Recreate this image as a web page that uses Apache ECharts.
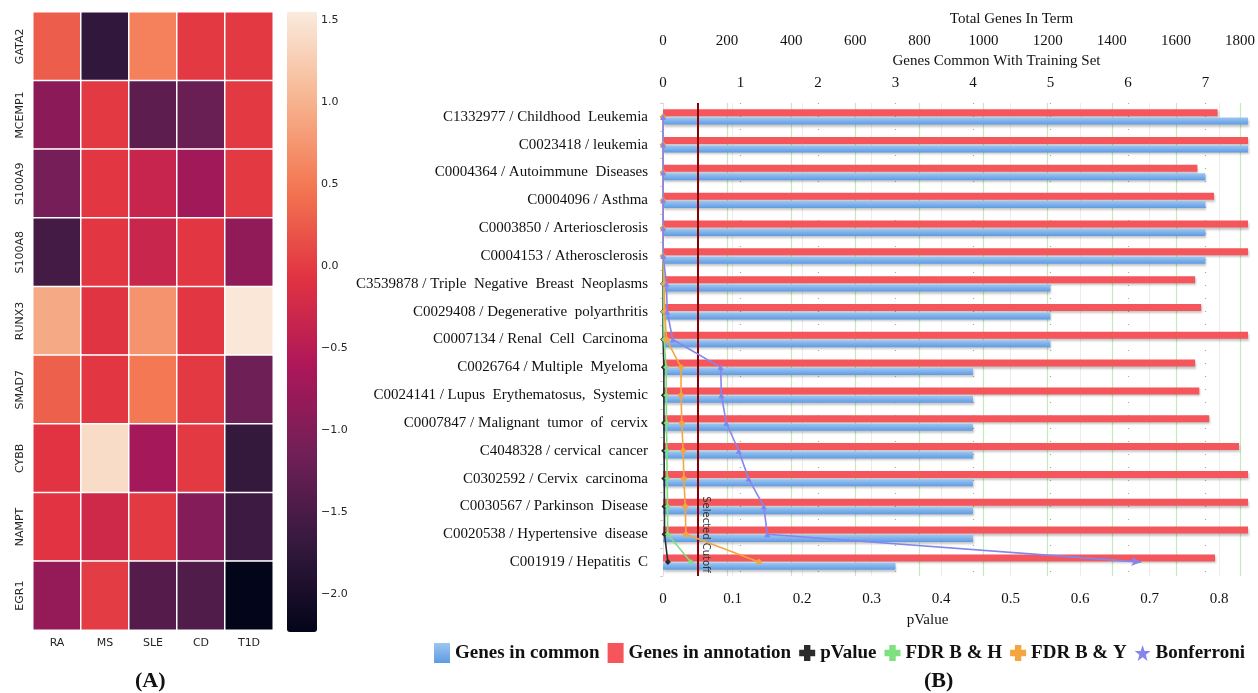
<!DOCTYPE html>
<html>
<head>
<meta charset="utf-8">
<script src="https://cdn.jsdelivr.net/npm/echarts@6/dist/echarts.min.js"></script>
<style>
html, body { margin: 0; padding: 0; background: #fff; }
#main { width: 1258px; height: 693px; }
</style>
</head>
<body>
<div id="main"></div>
<script>
// (A) heatmap
const genes = ['GATA2', 'MCEMP1', 'S100A9', 'S100A8', 'RUNX3', 'SMAD7', 'CYBB', 'NAMPT', 'EGR1']
const diseases = ['RA', 'MS', 'SLE', 'CD', 'T1D']
const expr = [
  [0.27, -1.74, 0.57, -0.02, -0.02],
  [-0.91, -0.02, -1.32, -1.21, -0.02],
  [-1.10, -0.04, -0.34, -0.72, -0.02],
  [-1.55, -0.04, -0.32, -0.04, -0.87],
  [0.91, -0.06, 0.72, -0.04, 1.51],
  [0.30, -0.04, 0.49, -0.02, -1.17],
  [-0.07, 1.40, -0.68, -0.02, -1.70],
  [-0.07, -0.26, -0.02, -0.98, -1.62],
  [-0.83, 0.00, -1.40, -1.44, -2.23]
]
const colorMin = -2.23
const colorMax = 1.55
const colorbarTicks = [-2, -1.5, -1, -0.5, 0, 0.5, 1, 1.5]
const rocket = ['#03051a', '#35193e', '#701f57', '#ad1759', '#e13342', '#f37651', '#f6b48f', '#faebdd']

// (B) enrichment bars + p-value lines
const terms = [
  'C1332977 / Childhood  Leukemia',
  'C0023418 / leukemia',
  'C0004364 / Autoimmune  Diseases',
  'C0004096 / Asthma',
  'C0003850 / Arteriosclerosis',
  'C0004153 / Atherosclerosis',
  'C3539878 / Triple  Negative  Breast  Neoplasms',
  'C0029408 / Degenerative  polyarthritis',
  'C0007134 / Renal  Cell  Carcinoma',
  'C0026764 / Multiple  Myeloma',
  'C0024141 / Lupus  Erythematosus,  Systemic',
  'C0007847 / Malignant  tumor  of  cervix',
  'C4048328 / cervical  cancer',
  'C0302592 / Cervix  carcinoma',
  'C0030567 / Parkinson  Disease',
  'C0020538 / Hypertensive  disease',
  'C001919 / Hepatitis  C'
]
const genesInCommon = [8, 8, 7, 7, 7, 7, 5, 5, 5, 4, 4, 4, 4, 4, 4, 4, 3]
const genesInAnnotation = [1730, 1900, 1667, 1719, 1850, 1860, 1660, 1679, 1900, 1660, 1673, 1704, 1797, 1850, 1900, 1880, 1722]
const pValue = [0, 0, 0, 0, 0, 0, 0.0001, 0.0001, 0.0002, 0.0012, 0.0013, 0.0014, 0.0016, 0.0018, 0.0021, 0.0022, 0.0070]
const fdrBH = [0, 0, 0, 0, 0, 0, 0.0008, 0.0009, 0.0015, 0.0045, 0.0047, 0.005, 0.0055, 0.006, 0.0065, 0.0068, 0.040]
const fdrBY = [0, 0, 0, 0, 0, 0, 0.002, 0.0025, 0.005, 0.026, 0.026, 0.027, 0.029, 0.030, 0.032, 0.033, 0.138]
const bonferroni = [0.0001, 0.0001, 0.0002, 0.0002, 0.0003, 0.0003, 0.005, 0.006, 0.014, 0.083, 0.084, 0.091, 0.109, 0.123, 0.145, 0.150, 0.688]
const pTicks = [0, 0.1, 0.2, 0.3, 0.4, 0.5, 0.6, 0.7, 0.8]
const totalTicks = [0, 200, 400, 600, 800, 1000, 1200, 1400, 1600, 1800]
const commonTicks = [0, 1, 2, 3, 4, 5, 6, 7]
const cutoff = 0.05

const chart = echarts.init(document.getElementById('main'))

const heatData = []
expr.forEach((row, i) => row.forEach((v, j) => heatData.push([j, i, v])))

const serif = 'Liberation Serif'
const sans = 'DejaVu Sans'
const crossIcon = 'path://M3,0H7V3H10V7H7V10H3V7H0V3H3Z'
const starIcon = 'path://M5,0L6.2,3.8L10,3.8L7,6.1L8.1,10L5,7.6L1.9,10L3,6.1L0,3.8L3.8,3.8Z'
const barShadow = { shadowColor: 'rgba(0,0,0,0.22)', shadowBlur: 2, shadowOffsetX: 1, shadowOffsetY: 2 }

const lineSeries = (name, data, color, symbol, extra) => Object.assign({
  name: name,
  type: 'line',
  xAxisIndex: 2,
  yAxisIndex: 2,
  data: data,
  symbol: symbol,
  symbolSize: 6,
  lineStyle: { color: color, width: 1.6 },
  itemStyle: { color: color },
  z: 5
}, extra || {})

const topAxisLabel = ticks => ({
  customValues: ticks, fontFamily: serif, fontSize: 15, color: '#111', margin: 12,
  formatter: v => String(v)
})

const option = {
  animation: false,
  backgroundColor: '#fff',
  grid: [
    { left: 33, top: 12, width: 240, height: 618 },
    { left: 287, top: 12, width: 30, height: 620 },
    { left: 663, top: 103, width: 588, height: 473 }
  ],
  xAxis: [
    {
      gridIndex: 0, type: 'category', data: diseases,
      axisLine: { show: false },
      axisTick: { alignWithLabel: true, length: 4, lineStyle: { color: '#333' } },
      axisLabel: { fontFamily: sans, fontSize: 11, color: '#262626', margin: 8 }
    },
    { gridIndex: 1, type: 'value', show: false },
    {
      gridIndex: 2, type: 'value', position: 'bottom', min: 0, max: 0.8415, interval: 0.1,
      name: 'pValue', nameLocation: 'middle', nameGap: 37,
      nameTextStyle: { fontFamily: serif, fontSize: 15, color: '#111', padding: [0, 56, 0, 0] },
      axisLine: { show: false }, axisTick: { show: false },
      axisLabel: { customValues: pTicks, fontFamily: serif, fontSize: 15, color: '#111', margin: 16 },
      splitLine: { show: true, showMinLine: false, showMaxLine: false, lineStyle: { color: '#ececec', width: 1 } }
    },
    {
      gridIndex: 2, type: 'value', position: 'top', offset: 42, min: 0, max: 1825, interval: 200,
      name: 'Total Genes In Term', nameLocation: 'middle', nameGap: 34,
      nameTextStyle: { fontFamily: serif, fontSize: 15, color: '#111', padding: [0, 0, 0, 112] },
      axisLine: { show: false }, axisTick: { show: false },
      axisLabel: topAxisLabel(totalTicks),
      splitLine: { show: true, showMinLine: false, showMaxLine: false, lineStyle: { color: '#c5e8bd', width: 1.2 } }
    },
    {
      gridIndex: 2, type: 'value', position: 'top', offset: 0, min: 0, max: 7.55, interval: 1,
      name: 'Genes Common With Training Set', nameLocation: 'middle', nameGap: 34,
      nameTextStyle: { fontFamily: serif, fontSize: 15, color: '#111', padding: [0, 0, 0, 82] },
      axisLine: { show: false }, axisTick: { show: false },
      axisLabel: topAxisLabel(commonTicks),
      splitLine: { show: true, showMinLine: false, showMaxLine: false, lineStyle: { color: '#aaa', width: 1.2, type: [1, 12] } }
    }
  ],
  yAxis: [
    {
      gridIndex: 0, type: 'category', data: genes, inverse: true,
      axisLine: { show: false },
      axisTick: { alignWithLabel: true, length: 4, lineStyle: { color: '#333' } },
      axisLabel: { rotate: 90, fontFamily: sans, fontSize: 11, color: '#262626', margin: 7 }
    },
    {
      gridIndex: 1, type: 'value', position: 'right', min: colorMin, max: colorMax,
      axisLine: { show: false },
      axisTick: { show: true, customValues: colorbarTicks, length: 4, lineStyle: { color: '#333' } },
      axisLabel: {
        customValues: colorbarTicks, fontFamily: sans, fontSize: 11, color: '#262626', margin: 4,
        formatter: v => v.toFixed(1).replace('-', '\u2212')
      },
      splitLine: { show: false }
    },
    {
      gridIndex: 2, type: 'category', data: terms, inverse: true,
      axisLine: { show: true, lineStyle: { color: '#e2e2e2' } },
      axisTick: { show: true, length: 3, lineStyle: { color: '#d0d0d0' } },
      axisLabel: { fontFamily: serif, fontSize: 15, color: '#111', margin: 15 }
    }
  ],
  visualMap: {
    type: 'continuous', seriesIndex: 0, min: colorMin, max: colorMax,
    calculable: false, showLabel: false, hoverLink: false,
    left: 287, top: 12, padding: 0, itemWidth: 30, itemHeight: 620,
    inRange: { color: rocket }
  },
  legend: {
    left: 434, top: 643, padding: 0, itemWidth: 16, itemHeight: 20, itemGap: 8,
    textStyle: { fontFamily: serif, fontSize: 19, fontWeight: 'bold', color: '#111' },
    data: [
      { name: 'Genes in common', icon: 'rect' },
      { name: 'Genes in annotation', icon: 'rect' },
      { name: 'pValue', icon: crossIcon },
      { name: 'FDR B & H', icon: crossIcon },
      { name: 'FDR B & Y', icon: crossIcon },
      { name: 'Bonferroni', icon: starIcon }
    ]
  },
  graphic: [
    { type: 'text', left: 135, top: 670, style: { text: '(A)', font: 'bold 22px "Liberation Serif"', fill: '#111' } },
    { type: 'text', left: 924, top: 670, style: { text: '(B)', font: 'bold 22px "Liberation Serif"', fill: '#111' } }
  ],
  series: [
    {
      type: 'heatmap', xAxisIndex: 0, yAxisIndex: 0, data: heatData,
      itemStyle: { borderColor: '#fff', borderWidth: 1.5 },
      emphasis: { disabled: true }
    },
    {
      name: 'Genes in annotation', type: 'bar', xAxisIndex: 3, yAxisIndex: 2,
      data: genesInAnnotation, barWidth: 7, barGap: '20%',
      itemStyle: Object.assign({ color: '#f4565b' }, barShadow)
    },
    {
      name: 'Genes in common', type: 'bar', xAxisIndex: 4, yAxisIndex: 2,
      data: genesInCommon, barWidth: 7, barGap: '20%',
      itemStyle: Object.assign({
        color: new echarts.graphic.LinearGradient(0, 0, 0, 1, [
          { offset: 0, color: '#9cc6f2' }, { offset: 1, color: '#5f9be3' }
        ])
      }, barShadow)
    },
    lineSeries('pValue', pValue, '#2b2b2b', 'diamond', {
      markLine: {
        silent: true, symbol: 'none',
        lineStyle: { color: '#8b0000', width: 2, type: 'solid' },
        label: { show: true, formatter: 'Selected Cutoff', position: 'insideEndTop', distance: 3, fontFamily: sans, fontSize: 10, color: '#333' },
        data: [{ xAxis: cutoff }]
      }
    }),
    lineSeries('FDR B & H', fdrBH, '#7fe07f', 'diamond'),
    lineSeries('FDR B & Y', fdrBY, '#f5a540', 'diamond', { symbolSize: 7 }),
    lineSeries('Bonferroni', bonferroni.map((v, i) => i === bonferroni.length - 1
      ? { value: v, symbol: 'arrow', symbolSize: [7, 10], symbolRotate: -94 }
      : v), '#8585f0', 'triangle')
  ]
}

chart.setOption(option)
</script>
</body>
</html>
